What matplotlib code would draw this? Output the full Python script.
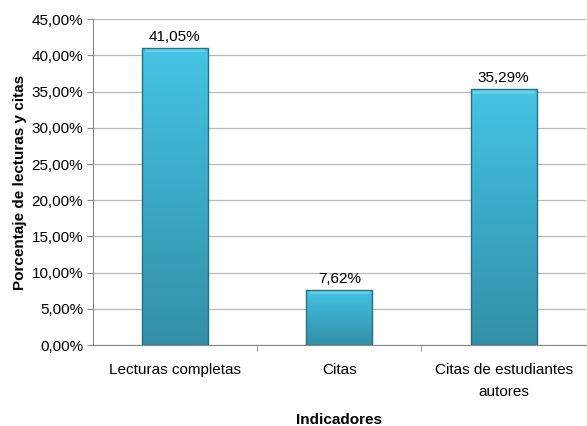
import matplotlib
matplotlib.use("Agg")
import matplotlib.pyplot as plt
import numpy as np
from matplotlib.colors import LinearSegmentedColormap
from matplotlib.ticker import FuncFormatter

categories = ["Lecturas completas", "Citas", "Citas de estudiantes\nautores"]
values = [41.05, 7.62, 35.29]
y_ticks = [0, 5, 10, 15, 20, 25, 30, 35, 40, 45]

plt.rcParams['font.family'] = ['Liberation Sans Narrow', 'Liberation Sans', 'DejaVu Sans']

fig = plt.figure(figsize=(5.87, 4.26), dpi=100)
ax = fig.add_axes([0.158, 0.19, 0.84, 0.765])

x = np.arange(len(categories))
bar_w = 0.4
bars = ax.bar(x, values, width=bar_w, color="none", edgecolor="#276f82", linewidth=1.0, zorder=3)

# vertical gradient fill for each bar
cmap = LinearSegmentedColormap.from_list("bar", ["#3490a8", "#3aa9c6", "#45c4e4"])
grad = np.linspace(0, 1, 256).reshape(-1, 1)
for b in bars:
    x0, y0 = b.get_x(), b.get_y()
    w, h = b.get_width(), b.get_height()
    im = ax.imshow(grad, cmap=cmap, origin="lower", aspect="auto",
                   extent=[x0, x0 + w, y0, y0 + h], zorder=2)
    im.set_clip_path(b)
    # lighter bevel along the top
    ax.fill_between([x0 + w * 0.04, x0 + w * 0.96], y0 + h - 0.6, y0 + h,
                    color="#7fd8ee", alpha=0.6, linewidth=0, zorder=2.5)

for xi, v in zip(x, values):
    ax.annotate(f"{v:.2f}%".replace(".", ","), (xi, v), xytext=(0, 3),
                textcoords="offset points", ha="center", va="bottom", fontsize=11)

ax.set_xlim(-0.5, 2.5)
ax.set_ylim(0, 45)
ax.set_yticks(y_ticks)
ax.yaxis.set_major_formatter(FuncFormatter(lambda v, p: f"{v:.2f}%".replace(".", ",")))
ax.set_xticks(x)
ax.set_xticklabels(categories, fontsize=11, linespacing=1.7)
ax.tick_params(axis="y", labelsize=11, length=4, color="#888888", pad=3)
ax.tick_params(axis="x", length=0, pad=13)
ax.set_xticks([0.5, 1.5], minor=True)
ax.tick_params(axis="x", which="minor", length=4, color="#888888")

ax.grid(axis="y", color="#b8b8b8", linewidth=0.9, zorder=0)
ax.set_axisbelow(True)
for s in ["top", "right"]:
    ax.spines[s].set_visible(False)
ax.spines["left"].set_color("#888888")
ax.spines["bottom"].set_color("#888888")

ax.set_ylabel("Porcentaje de lecturas y citas", fontsize=11, fontweight="bold", labelpad=3)
ax.set_xlabel("Indicadores", fontsize=11, fontweight="bold", labelpad=10)

fig.savefig("out.png", dpi=100)
